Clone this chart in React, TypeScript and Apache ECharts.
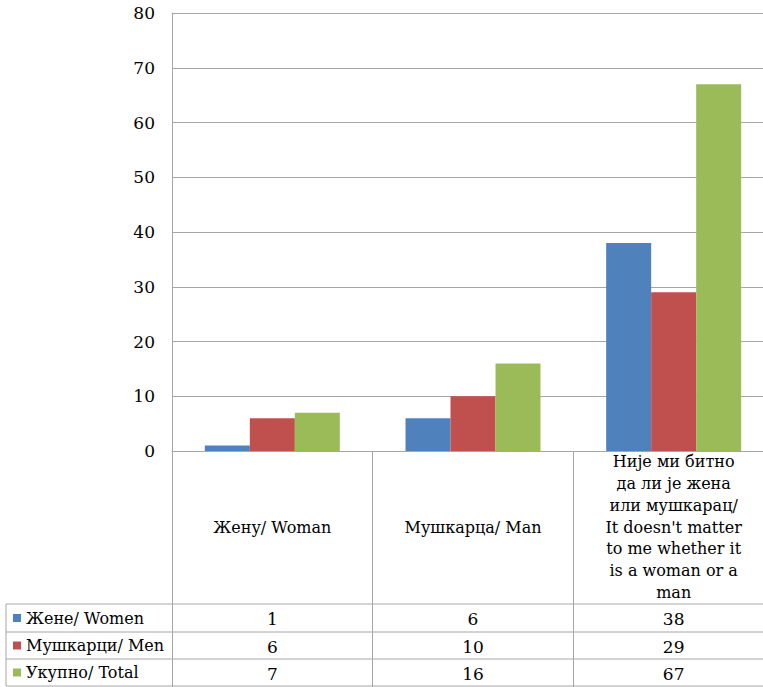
import React, { useEffect, useRef } from "react";
import * as echarts from "echarts";

const categories = [
  "Жену/ Woman",
  "Мушкарца/ Man",
  "Није ми битно\nда ли је жена\nили мушкарац/\nIt doesn't matter\nto me whether it\nis a woman or a\nman",
];
const seriesNames = ["Жене/ Women", "Мушкарци/ Men", "Укупно/ Total"];
const women = [1, 6, 38];
const men = [6, 10, 29];
const total = [7, 16, 67];
const colors = ["#4F81BD", "#C0504D", "#9BBB59"];

const FONT = "DejaVu Serif";
const GRAY = "#A6A6A6";

export default function App() {
  const ref = useRef<HTMLDivElement>(null);
  useEffect(() => {
    if (!ref.current) return;
    const chart = echarts.init(ref.current, undefined, { renderer: "svg" });
    const values = [women, men, total];
    chart.setOption({
      animation: false,
      textStyle: { fontFamily: FONT },
      grid: {
        left: 172,
        top: 13,
        width: 602,
        height: 438,
        containLabel: false,
        outerBoundsMode: "none",
      },
      xAxis: {
        type: "category",
        data: categories,
        axisLine: { show: true, lineStyle: { color: GRAY, width: 1 } },
        axisTick: { show: true, length: 236, lineStyle: { color: GRAY, width: 1 } },
        axisLabel: {
          interval: 0,
          margin: 76,
          verticalAlign: "middle",
          align: "center",
          lineHeight: 21.7,
          fontSize: 16,
          fontFamily: FONT,
          color: "#000",
        },
      },
      yAxis: {
        type: "value",
        min: 0,
        max: 80,
        interval: 10,
        axisLine: { show: true, lineStyle: { color: GRAY, width: 1 } },
        axisTick: { show: false },
        splitLine: { lineStyle: { color: GRAY, width: 1 } },
        axisLabel: { fontSize: 17, fontFamily: FONT, color: "#000", margin: 17 },
      },
      series: seriesNames.map((name, i) => ({
        name,
        type: "bar",
        data: values[i],
        barWidth: 45,
        barGap: "0%",
        itemStyle: { color: colors[i] },
      })),
    });

    const rowY = [604, 632, 659, 686];
    const leftX = 6;
    const rightX = 774;
    const graphics: any[] = [];
    rowY.forEach((y) => {
      graphics.push({
        type: "line",
        shape: { x1: leftX, y1: y, x2: rightX, y2: y },
        style: { stroke: GRAY, lineWidth: 1 },
      });
    });
    graphics.push({
      type: "line",
      shape: { x1: leftX, y1: rowY[0], x2: leftX, y2: rowY[3] },
      style: { stroke: GRAY, lineWidth: 1 },
    });
    for (let r = 0; r < 3; r++) {
      const cy = (rowY[r] + rowY[r + 1]) / 2;
      graphics.push({
        type: "rect",
        shape: { x: 13, y: cy - 4, width: 8, height: 8 },
        style: { fill: colors[r] },
      });
      graphics.push({
        type: "text",
        x: 26,
        y: cy,
        style: {
          text: seriesNames[r],
          fontSize: 16,
          fontFamily: FONT,
          fill: "#000",
          align: "left",
          verticalAlign: "middle",
        },
      });
      values[r].forEach((v, c) => {
        const px = chart.convertToPixel({ xAxisIndex: 0 }, categories[c]) as number;
        graphics.push({
          type: "text",
          x: px,
          y: cy + 1,
          style: {
            text: String(v),
            fontSize: 17,
            fontFamily: FONT,
            fill: "#000",
            align: "center",
            verticalAlign: "middle",
          },
        });
      });
    }
    chart.setOption({ graphic: graphics });
    return () => chart.dispose();
  }, []);
  return (
    <div
      ref={ref}
      style={{ position: "fixed", left: 0, top: 0, width: 763, height: 687, background: "#fff" }}
    />
  );
}
